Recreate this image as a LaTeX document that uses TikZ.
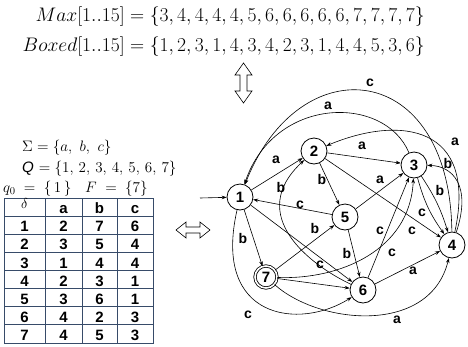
\documentclass[tikz,border=0pt]{standalone}
\usepackage{fontspec}
\newfontfamily\hv{Liberation Sans}
\usetikzlibrary{arrows.meta}
\definecolor{gridcol}{RGB}{55,75,105}
\begin{document}
\begin{tikzpicture}[x=1pt,y=1pt,
  state/.style={circle,draw,line width=0.8pt,minimum size=26pt,inner sep=0pt,
    font=\hv\bfseries\fontsize{15}{15}\selectfont},
  final/.style={state,double,double distance=1.6pt,minimum size=22pt},
  edge/.style={line width=0.6pt,-{Stealth[length=5pt,width=3.6pt]}},
  lbl/.style={inner sep=0pt,font=\hv\bfseries\fontsize{14}{14}\selectfont},
  cell/.style={anchor=base,inner sep=0pt,font=\hv\bfseries\fontsize{15}{15}\selectfont},
  hollow/.style={draw,line width=0.6pt,line join=miter},
  arrayline/.style={anchor=base east,inner sep=0pt,font=\fontsize{17.28}{20}\selectfont,
    scale=1.135,transform shape},
  defline/.style={anchor=base west,inner sep=0pt,font=\fontsize{14.4}{16}\selectfont,
    scale=1.05,transform shape}
]
\useasboundingbox (0,0) rectangle (468,-346);

% arrays
\node[arrayline] (maxarr) at (425,-21)
  {$Max[1..15] = \{3,4,4,4,4,5,6,6,6,6,6,7,7,7,7\}$};
\node[arrayline] (boxarr) at (425,-51)
  {$Boxed[1..15] = \{1,2,3,1,4,3,4,2,3,1,4,4,5,3,6\}$};

% automaton definition
\node[defline] (sigma) at (22,-151) {$\Sigma = \{a,\ b,\ c\}$};
\node[defline] (qset) at (22,-172) {\mbox{\hv\itshape Q} $= \{1,\,2,\,3,\,4,\,5,\,6,\,7\}$};
\node[defline] (qzero) at (3,-192) {$q_0 \;=\; \{\,1\,\}$};
\node[defline] (fset) at (85,-192) {$F \;=\; \{7\}$};

% transition table
\draw[gridcol,line width=0.9pt] (4,-198) rectangle (153,-343);
\foreach \x in {45,82,117} \draw[gridcol,line width=0.9pt] (\x,-198) -- (\x,-343);
\foreach \i in {0,...,6} \draw[gridcol,line width=0.9pt] (4,{-216-18.143*\i}) -- (153,{-216-18.143*\i});
\node[inner sep=0pt,font=\fontsize{14.4}{14}\selectfont] (hd) at (24.5,-203.5) {$\delta$};
\node[cell] (ha) at (63.5,-213.5) {a};
\node[cell] (hb) at (99.5,-213.5) {b};
\node[cell] (hc) at (135,-213.5) {c};
\foreach \r/\a/\b/\c [count=\i] in {1/2/7/6,2/3/5/4,3/1/4/4,4/2/3/1,5/3/6/1,6/4/2/3,7/4/5/3}{
  \pgfmathsetmacro\yb{-216-18.143*\i+2.3}
  \node[cell] (r\i) at (24.5,\yb) {\r};
  \node[cell] (ra\i) at (63.5,\yb) {\a};
  \node[cell] (rb\i) at (99.5,\yb) {\b};
  \node[cell] (rc\i) at (135,\yb) {\c};
}

% hollow double arrows
\draw[hollow] (243.5,-63) -- (252,-75) -- (247,-75) -- (247,-91) -- (252,-91) -- (243.5,-103)
  -- (235,-91) -- (240,-91) -- (240,-75) -- (235,-75) -- cycle;
\draw[hollow] (176,-230) -- (186,-222) -- (186,-227) -- (200,-227) -- (200,-222) -- (210,-230)
  -- (200,-238) -- (200,-233) -- (186,-233) -- (186,-238) -- cycle;

% states
\node[state] (n1) at (240,-197) {1};
\node[state] (n2) at (314,-151) {2};
\node[state] (n3) at (414,-165) {3};
\node[state] (n4) at (452,-245) {4};
\node[state] (n5) at (345,-217) {5};
\node[state] (n6) at (363,-290) {6};
\node[final] (n7) at (266,-277) {7};
\coordinate (start) at (200,-198);

% transitions
\draw[edge] (start) -- (n1);
\draw[edge] (n1) -- (n2);
\draw[edge] (n1) -- (n7);
\draw[edge] (n1) -- (n6);
\draw[edge] (n1) .. controls (212,-320) and (300,-330) .. (n6);
\draw[edge] (n2) -- (n3);
\draw[edge] (n2) -- (n5);
\draw[edge] (n2) -- (n4);
\draw[edge] (n3) .. controls (385,-95) and (275,-95) .. (n1);
\draw[edge] (n3) to[bend left=8] (n4);
\draw[edge] (n3) to[bend right=10] (n4);
\draw[edge] (n4) .. controls (478,-125) and (400,-115) .. (n2);
\draw[edge] (n4) .. controls (472,-185) and (452,-166) .. (n3);
\draw[edge] (n4) .. controls (450,-60) and (300,-45) .. (n1);
\draw[edge] (n5) -- (n3);
\draw[edge] (n5) -- (n6);
\draw[edge] (n5) -- (n1);
\draw[edge] (n6) -- (n4);
\draw[edge] (n6) .. controls (310,-265) and (245,-215) .. (n2);
\draw[edge] (n6) -- (n3);
\draw[edge] (n7) -- (n5);
\draw[edge] (n7) -- (n6);
\draw[edge] (n7) .. controls (340,-280) and (410,-250) .. (n3);
\draw[edge] (n7) .. controls (320,-325) and (430,-335) .. (n4);

% transition labels
\node[lbl] (l12) at (276,-160) {a};
\node[lbl] (l31) at (328,-106) {a};
\node[lbl] (l41) at (370,-83) {c};
\node[lbl] (l42) at (455,-142) {a};
\node[lbl] (l43) at (448,-163) {b};
\node[lbl] (l34b) at (440,-190) {b};
\node[lbl] (l34c) at (422,-213) {c};
\node[lbl] (l23) at (362,-146) {a};
\node[lbl] (l25) at (322,-179) {b};
\node[lbl] (l53) at (380,-180) {a};
\node[lbl] (l24) at (412,-231) {c};
\node[lbl] (l63) at (380,-231) {c};
\node[lbl] (l73) at (392,-253) {c};
\node[lbl] (l62) at (281,-187) {b};
\node[lbl] (l51) at (300,-205) {c};
\node[lbl] (l75) at (315,-228) {b};
\node[lbl] (l56) at (347,-253) {b};
\node[lbl] (l16) at (320,-265) {c};
\node[lbl] (l64) at (413,-271) {a};
\node[lbl] (l74) at (397,-320) {a};
\node[lbl] (l16b) at (248,-315) {c};
\node[lbl] (l17) at (243,-238) {b};
\end{tikzpicture}
\end{document}
